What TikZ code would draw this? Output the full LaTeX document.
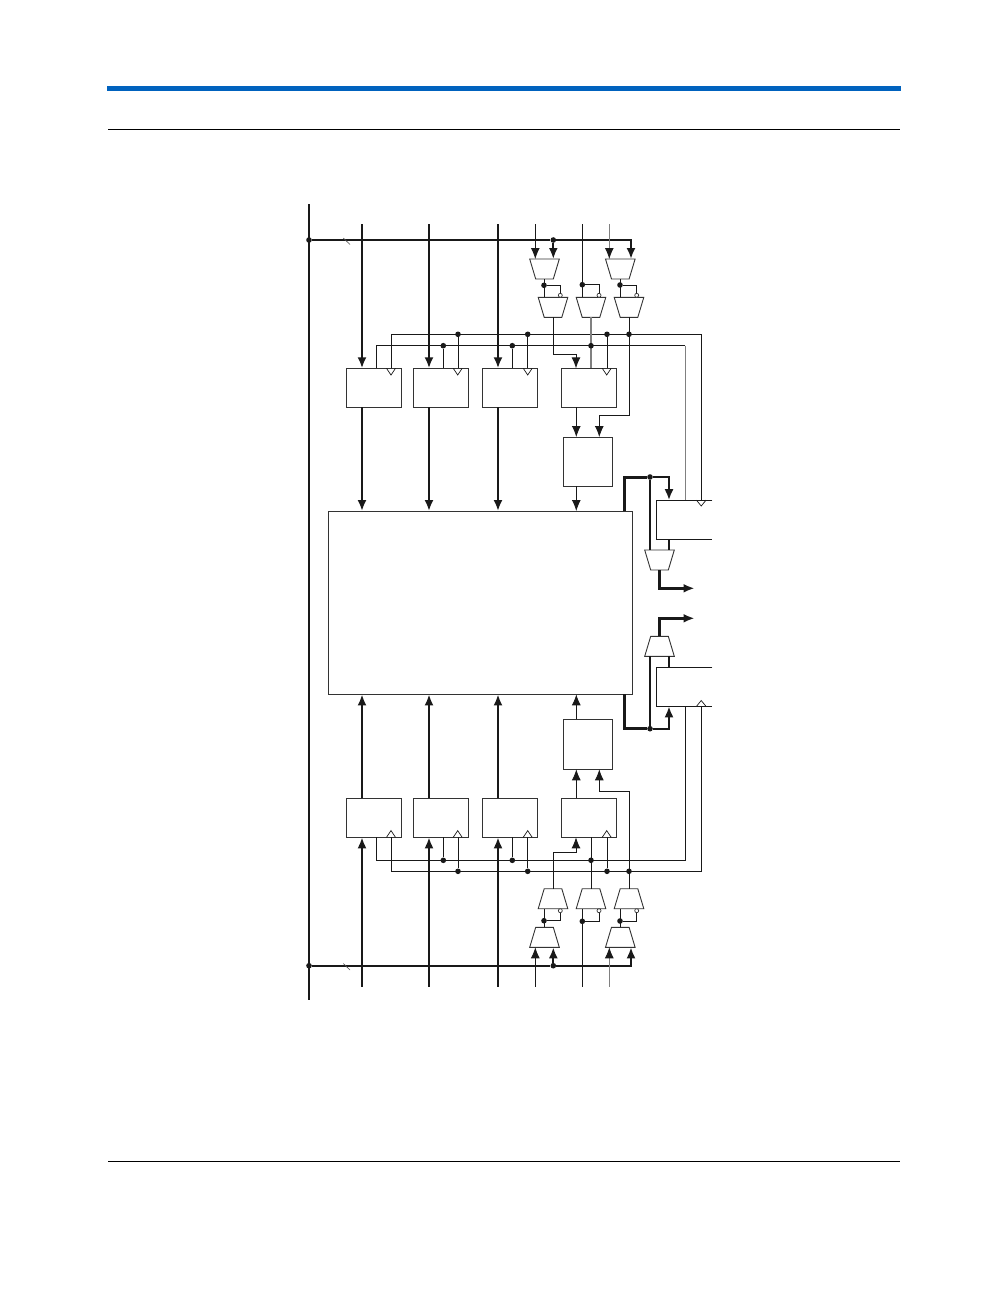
\documentclass[tikz,border=0pt]{standalone}
\usepackage{tikz}
\usetikzlibrary{arrows.meta}
\definecolor{headblue}{RGB}{0,98,190}

\begin{document}
\begin{tikzpicture}[x=1pt, y=-1pt,
				>={Latex[length=11pt,width=9pt]},   %arrow tips
				wire/.style={line width=0.9pt, draw=black!90},
				graywire/.style={line width=0.9pt, draw=black!50},
				bus/.style={line width=2.3pt, draw=black!90},
				fatbus/.style={line width=3pt, draw=black!90},
				register/.style={draw=black!80, line width=0.9pt, fill=white, minimum width=55pt, minimum height=39pt, inner sep=0pt, outer sep=0pt},
				ioreg/.style={minimum width=56pt, minimum height=39pt, inner sep=0pt, outer sep=0pt},
				mux/.style={minimum width=29.6pt, minimum height=20pt, inner sep=0pt, outer sep=0pt},
				muxline/.style={draw=black!80, line width=0.9pt, fill=white},
				dot/.style={circle, fill=black!90, inner sep=0pt, minimum size=5.6pt},
				invdot/.style={circle, draw=black!80, line width=0.7pt, fill=white, inner sep=0pt, minimum size=4pt}]
				\useasboundingbox (0,0) rectangle (1008,1296);
				% page head and foot
				\fill[headblue] (107,86) rectangle (901,90.5);
				\draw[line width=0.8pt] (108,129) -- (900,129);
				\draw[line width=0.8pt] (108,1161) -- (900,1161);
				% blocks
				\node[register, minimum width=304pt, minimum height=183.3pt] (core) at (480.5,602.7) {};
				\node[register, minimum width=49pt, minimum height=49.3pt] (boxt) at (587.8,461.7) {};
				\node[register, minimum width=49pt, minimum height=50pt] (boxb) at (587.8,744.3) {};
				\foreach \n/\x in {1/374.2,2/441.4,3/510.4,4/588.5} {
					\node[register] (regt\n) at (\x,387.8) {};
					\node[register] (regb\n) at (\x,817.8) {};
				}
				% multiplexers
				\foreach \n/\x/\y in {1/544.5/269,2/620.3/269,3/553/307.3,4/591/307.3,5/629/307.3} \node[mux] (mt\n) at (\x,\y) {};
				\foreach \n/\x/\y in {1/544.5/937.3,2/620.3/937.3,3/553/898.7,4/591/898.7,5/629/898.7} \node[mux] (mb\n) at (\x,\y) {};
				\node[mux] (moa) at (659.5,560) {};
				\node[mux] (mob) at (659.5,646.3) {};
				\foreach \m in {mt1,mt2,mt3,mt4,mt5,moa} \draw[muxline] (\m.north west) -- (\m.north east) -- ([xshift=-6pt]\m.south east) -- ([xshift=6pt]\m.south west) -- cycle;
				\foreach \m in {mb1,mb2,mb3,mb4,mb5,mob} \draw[muxline] ([xshift=6pt]\m.north west) -- ([xshift=-6pt]\m.north east) -- (\m.south east) -- (\m.south west) -- cycle;
				% open registers on the right
				\node[ioreg] (ioa) at (684.3,519.7) {};
				\node[ioreg] (iob) at (684.3,686.8) {};
				\draw[wire] (ioa.north east) -- (ioa.north west) -- (ioa.south west) -- (ioa.south east);
				\draw[wire] (iob.north east) -- (iob.north west) -- (iob.south west) -- (iob.south east);
				% clock triangles
				\foreach \x in {391,457.7,527.7,606.7} {
					\draw[wire, line width=0.7pt] (\x-4.5,368.3) -- (\x,375) -- (\x+4.5,368.3);
					\draw[wire, line width=0.7pt] (\x-4.5,837.3) -- (\x,830.6) -- (\x+4.5,837.3);
				}
				\draw[wire, line width=0.7pt] (696.5,500.2) -- (701.2,506) -- (706,500.2);
				\draw[wire, line width=0.7pt] (696.5,706.3) -- (701.2,700.5) -- (706,706.3);
				% left bus and side buses
				\coordinate (lefttop) at (309,204);
				\coordinate (leftbot) at (309,1000);
				\draw[bus] (lefttop) -- (leftbot);
				\node[dot] (bust) at (309,240) {};
				\node[dot] (busb) at (309,965.7) {};
				\node[dot] (tapt) at (553.3,240) {};
				\node[dot] (tapb) at (553.3,965.7) {};
				\coordinate (endt) at (631,240);
				\coordinate (endb) at (631,965.7);
				\draw[bus] (bust) -- (tapt);
				\draw[bus, ->] (tapt) -- (endt) -- (endt |- mt2.north);
				\draw[bus, ->] (tapt) -- (tapt |- mt1.north);
				\draw[bus] (busb) -- (tapb);
				\draw[bus, ->] (tapb) -- (endb) -- (endb |- mb2.south);
				\draw[bus, ->] (tapb) -- (tapb |- mb1.south);
				\draw[line width=0.6pt, black!70] (343.3,238) -- (350,244.5);
				\draw[line width=0.6pt, black!70] (343.3,963.5) -- (350,970);
				% inputs
				\foreach \n/\x in {1/362,2/429,3/498,4/535.3,5/582.3,6/609.3} {
					\coordinate (ti\n) at (\x,224);
					\coordinate (bi\n) at (\x,986.7);
				}
				\foreach \n in {1,2,3} {
					\draw[bus, ->] (ti\n) -- (ti\n |- regt\n.north);
					\draw[bus, ->] (bi\n) -- (bi\n |- regb\n.south);
					\draw[bus, ->] (ti\n |- regt\n.south) -- (ti\n |- core.north);
					\draw[bus, ->] (bi\n |- regb\n.north) -- (bi\n |- core.south);
				}
				\draw[wire, ->] (ti4) -- (ti4 |- mt1.north);
				\draw[graywire, -{Latex[length=11pt,width=9pt,black!90]}] (ti6) -- (ti6 |- mt2.north);
				\draw[wire] (ti5) -- (ti5 |- mt4.north);
				\draw[wire, ->] (bi4) -- (bi4 |- mb1.south);
				\draw[graywire, -{Latex[length=11pt,width=9pt,black!90]}] (bi6) -- (bi6 |- mb2.south);
				\draw[wire] (bi5) -- (bi5 |- mb4.south);
				% mux to mux, upper half
				\node[dot] (sela) at (544,285.3) {};
				\node[dot] (selb) at (582.3,284.7) {};
				\node[dot] (selc) at (620,285) {};
				\draw[wire] (sela |- mt1.south) -- (sela |- mt3.north);
				\draw[wire] (selc |- mt2.south) -- (selc |- mt5.north);
				\foreach \s/\x in {sela/560.3,selb/599,selc/636.7} {
					\node[invdot] (inv\s) at (\x,295.3) {};
					\draw[wire] (\s) -| (inv\s.north);
				}
				% mux to mux, lower half
				\node[dot] (seld) at (544,920.7) {};
				\node[dot] (sele) at (582.3,921.3) {};
				\node[dot] (self) at (620,921) {};
				\draw[wire] (seld |- mb1.north) -- (seld |- mb3.south);
				\draw[wire] (self |- mb2.north) -- (self |- mb5.south);
				\foreach \s/\x in {seld/560.3,sele/599,self/636.7} {
					\node[invdot] (inv\s) at (\x,910.7) {};
					\draw[wire] (\s) -| (inv\s.south);
				}
				% control lines
				\coordinate (clktl) at (391,368.3);
				\coordinate (clktc) at (701.5,334.3);
				\coordinate (clrtl) at (376.7,368.3);
				\coordinate (clrtc) at (685,345.7);
				\draw[wire] (clktl) |- (clktc) -- (clktc |- ioa.north);
				\draw[wire] (clrtl) |- (clrtc);
				\draw[graywire] (clrtc) -- (clrtc |- ioa.north);
				\coordinate (clkbl) at (391,837.3);
				\coordinate (clkbc) at (701.5,871.3);
				\coordinate (clrbl) at (376.7,837.3);
				\coordinate (clrbc) at (685,860.3);
				\draw[wire] (clkbl) |- (clkbc) -- (clkbc |- iob.south);
				\draw[wire] (clrbl) |- (clrbc) -- (clrbc |- iob.south);
				\foreach \n/\x/\r in {a/458/2,b/527.7/3,c/607/4} {
					\node[dot] (ct\n) at (\x,334.3) {};
					\node[dot] (cb\n) at (\x,871.3) {};
					\draw[wire] (ct\n) -- (ct\n |- regt\r.north);
					\draw[wire] (cb\n) -- (cb\n |- regb\r.south);
				}
				\foreach \n/\x/\r in {a/443.3/2,b/512.3/3} {
					\node[dot] (rt\n) at (\x,345.7) {};
					\node[dot] (rb\n) at (\x,860.3) {};
					\draw[wire] (rt\n) -- (rt\n |- regt\r.north);
					\draw[wire] (rb\n) -- (rb\n |- regb\r.south);
				}
				% mux outputs into the registers
				\coordinate (dropt) at (576,354.3);
				\coordinate (dropb) at (576,852);
				\draw[wire, ->] (mt3.south) |- (dropt) -- (dropt |- regt4.north);
				\draw[graywire, line width=1.5pt] (mt4.south) -- (mt4.south |- regt4.north);
				\coordinate (bendt) at (599.3,415.8);
				\draw[wire, ->] (mt5.south) |- (bendt) -- (bendt |- boxt.north);
				\draw[wire, ->] (mb3.north) |- (dropb) -- (dropb |- regb4.south);
				\draw[wire] (mb4.north) -- (mb4.north |- regb4.south);
				\coordinate (bendb) at (599.3,791.3);
				\draw[wire, ->] (mb5.north) |- (bendb) -- (bendb |- boxb.south);
				\node[dot] (rtc) at (591,345.7) {};
				\node[dot] (rbc) at (591,860.3) {};
				\node[dot] (ctd) at (629,334.3) {};
				\node[dot] (cbd) at (629,871.3) {};
				% registers to boxes and core
				\coordinate (regxt) at (576.3,407.3);
				\coordinate (regxb) at (576.3,798.3);
				\draw[wire, ->] (regxt) -- (regxt |- boxt.north);
				\draw[wire, ->] (regxt |- boxt.south) -- (regxt |- core.north);
				\draw[wire, ->] (regxb) -- (regxb |- boxb.south);
				\draw[wire, ->] (regxb |- boxb.north) -- (regxb |- core.south);
				% core to the right side
				\node[dot] (tapa) at (650,477) {};
				\node[dot] (tapc) at (650,728.7) {};
				\coordinate (corea) at (624,511);
				\coordinate (corec) at (624,694.3);
				\coordinate (ioline) at (669,600);
				\draw[fatbus] (corea) |- (tapa);
				\draw[bus, ->] (tapa) -| (ioline |- ioa.north);
				\draw[bus] (tapa) -- (tapa |- moa.north);
				\draw[bus] (ioline |- ioa.south) -- (ioline |- moa.north);
				\draw[fatbus] (corec) |- (tapc);
				\draw[bus, ->] (tapc) -| (ioline |- iob.south);
				\draw[bus] (tapc) -- (tapc |- mob.south);
				\draw[bus] (ioline |- iob.north) -- (ioline |- mob.south);
				% outputs
				\coordinate (outa) at (694.5,588.3);
				\coordinate (outb) at (694.5,618.3);
				\draw[fatbus, ->] (moa.south) |- (outa);
				\draw[fatbus, ->] (mob.north) |- (outb);
			\end{tikzpicture}
\end{document}
